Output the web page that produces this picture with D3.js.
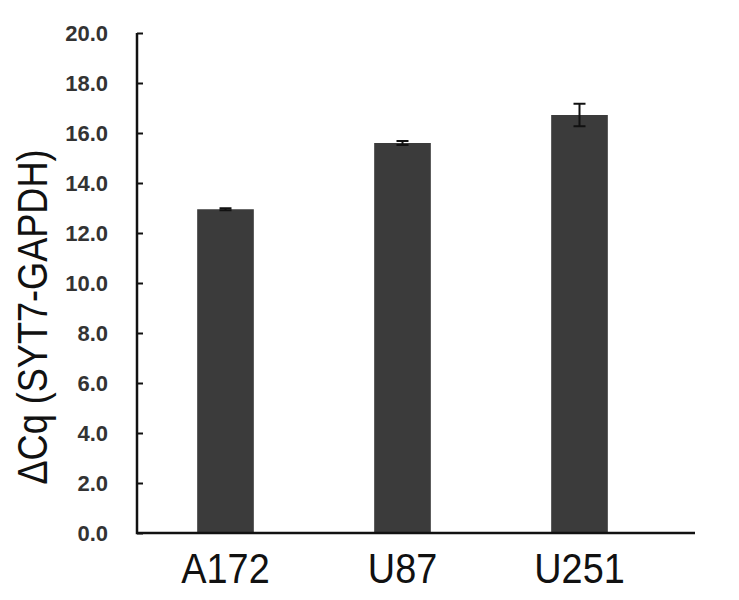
<html>
<head>
	<meta charset="utf-8">
	<script src="https://d3js.org/d3.v7.min.js"></script>
	<style>
		body { margin: 0; background: #fff; }
		.ytick text { font-family: Arial, "Liberation Sans", sans-serif; font-weight: bold; font-size: 22px; fill: #333; }
	</style>
</head>
<body>
<script>
	var cells = ["A172", "U87", "U251"];
	var dcq = [12.95, 15.6, 16.72];
	var errs = [0.04, 0.08, 0.45];
	var yTicks = [0, 2, 4, 6, 8, 10, 12, 14, 16, 18, 20];

	var w = 739, h = 600;
	var left = 137, plotTop = 33, bottom = 533;
	var font = "Arial, 'Liberation Sans', sans-serif";

	var svg = d3.select("body").append("svg")
		.attr("width", w).attr("height", h);

	var x = d3.scaleBand()
		.domain(cells)
		.range([left, 668])
		.paddingInner(0.68)
		.paddingOuter(0.34);

	var y = d3.scaleLinear()
		.domain([0, 20])
		.range([bottom, plotTop]);

	// bars
	svg.selectAll("rect.bar")
		.data(cells)
		.enter().append("rect")
		.attr("class", "bar")
		.attr("x", function(d) { return x(d); })
		.attr("width", x.bandwidth())
		.attr("y", function(d, i) { return y(dcq[i]); })
		.attr("height", function(d, i) { return bottom - y(dcq[i]); })
		.attr("fill", "#3b3b3b");

	// error bars
	var eb = svg.selectAll("g.err").data(cells).enter().append("g")
		.attr("stroke", "#111").attr("stroke-width", 2);
	eb.append("line")
		.attr("x1", function(d) { return x(d) + x.bandwidth() / 2; })
		.attr("x2", function(d) { return x(d) + x.bandwidth() / 2; })
		.attr("y1", function(d, i) { return y(dcq[i] + errs[i]); })
		.attr("y2", function(d, i) { return y(dcq[i] - errs[i]); });
	eb.append("line")
		.attr("x1", function(d) { return x(d) + x.bandwidth() / 2 - 6; })
		.attr("x2", function(d) { return x(d) + x.bandwidth() / 2 + 6; })
		.attr("y1", function(d, i) { return y(dcq[i] + errs[i]); })
		.attr("y2", function(d, i) { return y(dcq[i] + errs[i]); });
	eb.append("line")
		.attr("x1", function(d) { return x(d) + x.bandwidth() / 2 - 6; })
		.attr("x2", function(d) { return x(d) + x.bandwidth() / 2 + 6; })
		.attr("y1", function(d, i) { return y(dcq[i] - errs[i]); })
		.attr("y2", function(d, i) { return y(dcq[i] - errs[i]); });

	// y axis, ticks pointing inward
	var yAxis = d3.axisRight(y)
		.tickValues(yTicks)
		.tickFormat(d3.format(".1f"))
		.tickSizeInner(6)
		.tickSizeOuter(0);
	var ga = svg.append("g")
		.attr("class", "ytick")
		.attr("transform", "translate(" + left + ",0)")
		.call(yAxis);
	ga.select(".domain").remove();
	ga.selectAll("line").attr("stroke", "#111").attr("stroke-width", 2);
	ga.selectAll("text")
		.attr("x", -29)
		.attr("text-anchor", "end")
		.attr("dy", "0.35em");

	// axis frame
	svg.append("path")
		.attr("d", "M" + left + "," + plotTop + "V" + bottom + "H695")
		.attr("fill", "none")
		.attr("stroke", "#111")
		.attr("stroke-width", 2.5);

	// x labels (narrow look)
	svg.selectAll("text.xl")
		.data(cells)
		.enter().append("text")
		.attr("transform", function(d) {
			return "translate(" + (x(d) + x.bandwidth() / 2) + ",583) scale(0.88,1)";
		})
		.attr("text-anchor", "middle")
		.attr("font-family", font)
		.attr("font-size", "43px")
		.attr("fill", "#111")
		.text(function(d) { return d; });

	// y title
	svg.append("text")
		.attr("transform", "translate(47,317) rotate(-90) scale(0.86,1)")
		.attr("text-anchor", "middle")
		.attr("font-family", font)
		.attr("font-size", "42px")
		.attr("fill", "#111")
		.text("ΔCq (SYT7-GAPDH)");
</script>
</body>
</html>
